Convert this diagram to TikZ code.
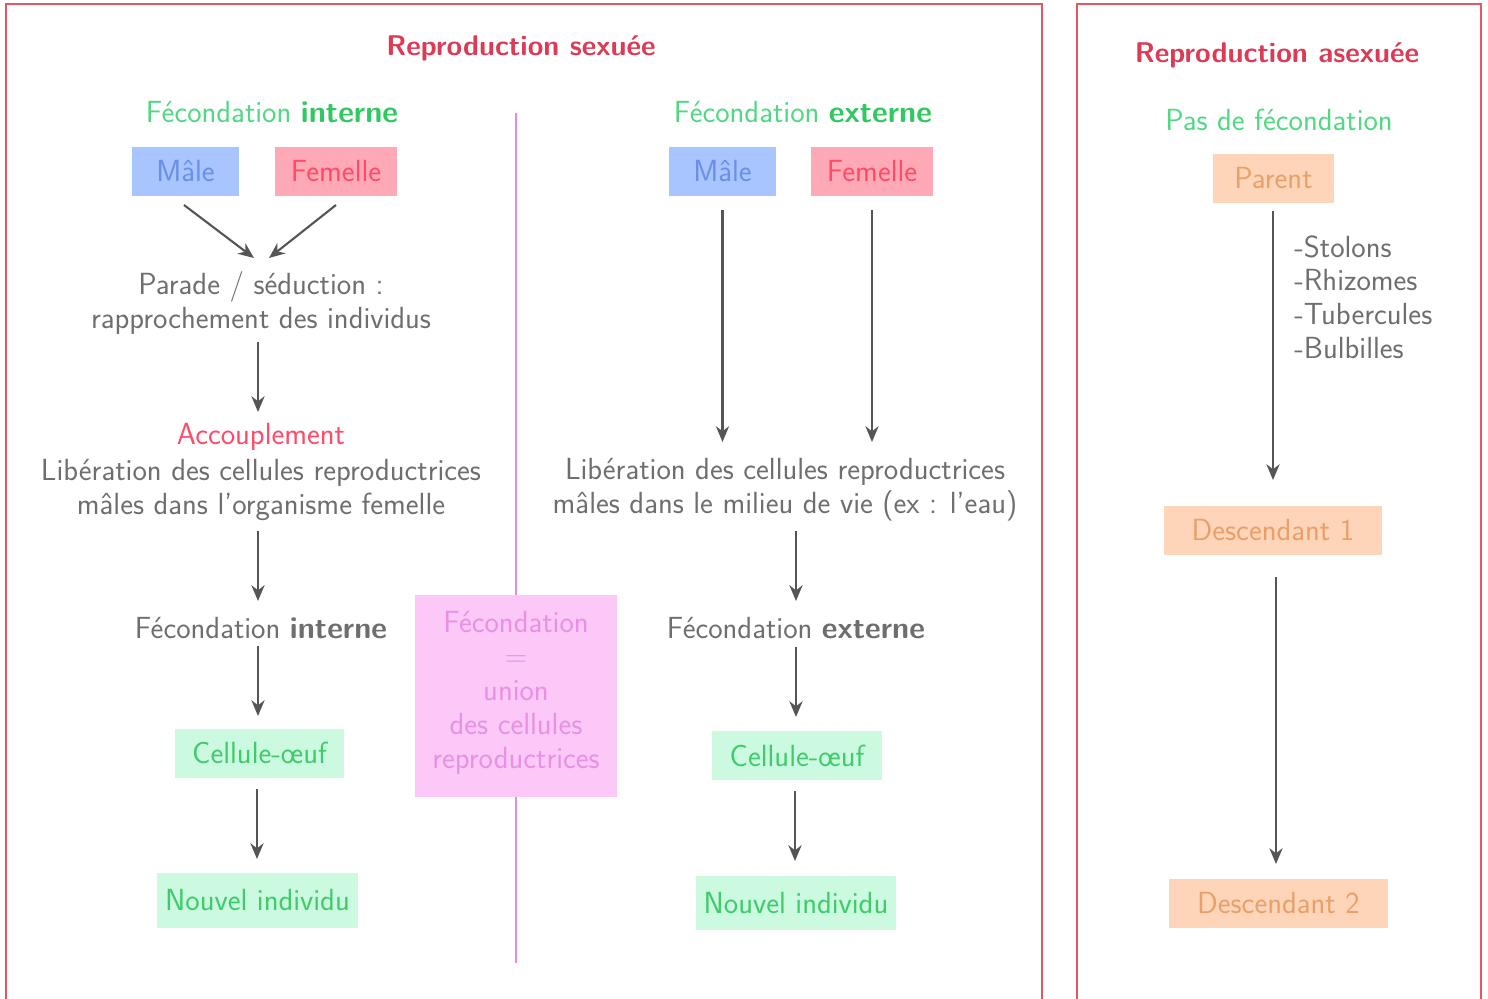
\documentclass[tikz,border=0pt]{standalone}
\usetikzlibrary{arrows.meta}
\definecolor{framered}{HTML}{E45866}
\definecolor{titlered}{HTML}{DC3A55}
\definecolor{gtext}{HTML}{50D882}
\definecolor{gbold}{HTML}{30C860}
\definecolor{txtgray}{HTML}{6E6E6E}
\definecolor{arrgray}{HTML}{555555}
\definecolor{malefill}{HTML}{A9C5FF}
\definecolor{maletext}{HTML}{6B8FE6}
\definecolor{femfill}{HTML}{FFA9B6}
\definecolor{femtext}{HTML}{FF4A68}
\definecolor{greenfill}{HTML}{CCFAE0}
\definecolor{greentext}{HTML}{3FCB6B}
\definecolor{orfill}{HTML}{FFD5BA}
\definecolor{ortext}{HTML}{E8A06A}
\definecolor{pinkfill}{HTML}{FBC8F8}
\definecolor{pinktext}{HTML}{E891E2}
\definecolor{pinkline}{HTML}{E48AE4}
\begin{document}
\begin{tikzpicture}[x=0.02cm,y=-0.02cm,
  every node/.style={font=\sffamily\fontsize{17.4}{19.3}\selectfont, inner sep=0pt},
  lbl/.style={text=txtgray, align=center},
  box/.style={minimum height=0.98cm},
  malebox/.style={box, fill=malefill, text=maletext, minimum width=2.14cm},
  fembox/.style={box, fill=femfill, text=femtext, minimum width=2.44cm},
  greenbox/.style={box, fill=greenfill, text=greentext},
  orbox/.style={box, fill=orfill, text=ortext},
  ttl/.style={text=titlered, font=\sffamily\bfseries\fontsize{16.2}{19.3}\selectfont},
  gttl/.style={text=gtext},
  arr/.style={draw=arrgray, line width=1.2pt, -{Stealth[length=9pt,width=7.5pt]}},
  frame/.style={draw=framered, line width=1.6pt}
]
\useasboundingbox (0,0) rectangle (1488,998);
% frames
\draw[frame] (6,1010) -- (6,4) -- (1042,4) -- (1042,1010);
\draw[frame] (1077,1010) -- (1077,4) -- (1481,4) -- (1481,1010);

% titles
\node[ttl] (tsex) at (521,48) {Reproduction sexu\'ee};
\node[ttl] (tasex) at (1277,55) {Reproduction asexu\'ee};

% pink separator and box
\node[fill=pinkfill, text=pinktext, minimum width=4.04cm, minimum height=4.04cm, align=center] (pink) at (516,696) {};
\node[text=pinktext, align=center] (pinktxt) at (516,693)
  {F\'econdation\\=\\union\\des cellules\\reproductrices};
\coordinate (septop) at (516,113);
\coordinate (sepbot) at (516,963);
\draw[pinkline, line width=1pt] (septop) -- (pink.north);
\draw[pinkline, line width=1pt] (pink.south) -- (sepbot);

% ---- internal fertilization
\node[gttl] (fi) at (272,112) {F\'econdation \textbf{\color{gbold}interne}};
\node[malebox] (mi) at (185.5,171.5) {M\^ale};
\node[fembox] (fi2) at (336,171.5) {Femelle};
\node[lbl] (parade) at (261,303) {Parade / s\'eduction :\\rapprochement des individus};
\draw[arr] (184,205) -- (254,258);
\draw[arr] (336,205) -- (269,258);
\node[text=femtext] (acc) at (261,437) {Accouplement};
\node[lbl] (libi) at (261,490) {Lib\'eration des cellules reproductrices\\m\^ales dans l'organisme femelle};
\node[lbl] (fint) at (261,628) {F\'econdation \textbf{interne}};
\node[greenbox, minimum width=3.38cm] (ci) at (259.5,753) {Cellule-\oe uf};
\node[greenbox, minimum width=4.02cm, minimum height=1.1cm] (ni) at (257.5,900.5) {Nouvel individu};
\draw[arr] (258,342) -- (258,412);
\draw[arr] (258,531) -- (258,601);
\draw[arr] (258,646) -- (258,716);
\draw[arr] (257,789) -- (257,859);

% ---- external fertilization
\node[gttl] (fe) at (803,112) {F\'econdation \textbf{\color{gbold}externe}};
\node[malebox] (me) at (722.5,171.5) {M\^ale};
\node[fembox] (fe2) at (872,171.5) {Femelle};
\node[lbl] (libe) at (785,490) {Lib\'eration des cellules reproductrices\\m\^ales dans le milieu de vie (ex : l'eau)};
\node[lbl] (fext) at (796,628) {F\'econdation \textbf{externe}};
\node[greenbox, minimum width=3.4cm] (ce) at (797,755.5) {Cellule-\oe uf};
\node[greenbox, minimum width=4.0cm, minimum height=1.08cm] (ne) at (796,903) {Nouvel individu};
\draw[arr] ([yshift=-0.28cm]me.south) -- (me.south |- 0,442);
\draw[arr] ([yshift=-0.28cm]fe2.south) -- (fe2.south |- 0,442);
\draw[arr] (796,531) -- (796,601);
\draw[arr] (796,647) -- (796,717);
\draw[arr] (795,791) -- (795,861);

% ---- asexual
\node[gttl] (pas) at (1279,120) {Pas de f\'econdation};
\node[orbox, minimum width=2.42cm] (par) at (1273.5,178.5) {Parent};
\node[lbl, align=left, anchor=north west] (list) at (1294,235) {-Stolons\\-Rhizomes\\-Tubercules\\-Bulbilles};
\node[orbox, minimum width=4.36cm] (d1) at (1273,530.5) {Descendant 1};
\node[orbox, minimum width=4.38cm] (d2) at (1278.5,903) {Descendant 2};
\draw[arr] (1273,211) -- (1273,480);
\draw[arr] (1276,577) -- (1276,864);
\end{tikzpicture}
\end{document}
